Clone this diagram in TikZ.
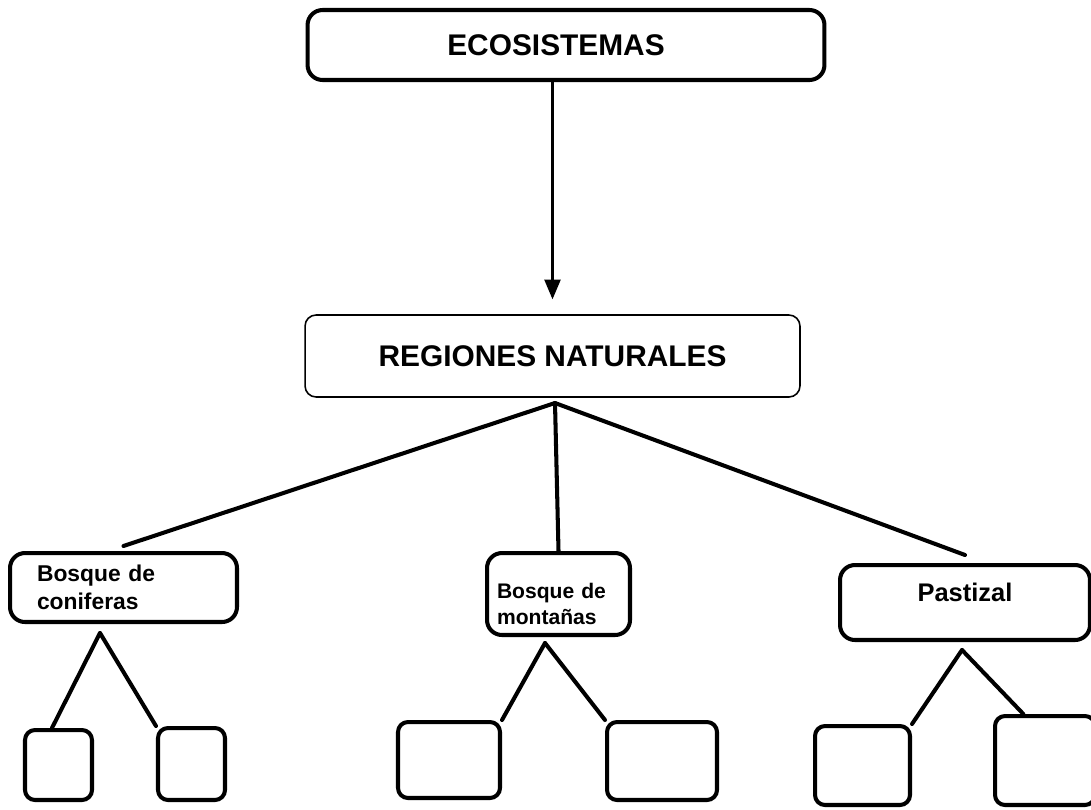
\documentclass[tikz,border=0pt]{standalone}
\usepackage{fontspec}
\setmainfont{Liberation Sans}
\usepackage{tikz}
\usetikzlibrary{arrows}

\begin{document}
\begin{tikzpicture}[line cap=round,line join=round,>=triangle 45,x=0.02cm,y=-0.02cm,
    box/.style={draw, line width=2.3pt, rounded corners=0.3cm, inner sep=0pt, font=\bfseries},
    leaf/.style={draw, line width=2.3pt, rounded corners=0.2cm, inner sep=0pt},
    con/.style={line width=2.3pt}]
                    \useasboundingbox (0,0) rectangle (1091,809);

                    \node[box, minimum width=10.34cm, minimum height=1.4cm, font=\bfseries\fontsize{17}{20}\selectfont] (eco) at (566,45) {ECOSISTEMAS\hspace*{0.4cm}};
                    \node[draw, line width=0.9pt, rounded corners=0.22cm, inner sep=0pt, minimum width=9.9cm, minimum height=1.64cm, font=\bfseries\fontsize{17}{20}\selectfont] (reg) at (552.5,356) {REGIONES NATURALES};

                    \node[box, minimum width=4.54cm, minimum height=1.38cm, inner xsep=0.54cm, text width=3.46cm, align=left, font=\bfseries\fontsize{13}{16}\selectfont] (coni) at (123.5,587.5) {Bosque de\\coniferas};
                    \node[box, minimum width=2.86cm, minimum height=1.64cm, inner xsep=0.2cm, text width=2.46cm, align=left, font=\bfseries\fontsize{12}{15}\selectfont] (mont) at (558.5,594) {\rule{0pt}{0.7cm}Bosque de\\montañas};
                    \node[box, minimum width=5cm, minimum height=1.5cm, text depth=0.4cm, font=\bfseries\fontsize{14.5}{17}\selectfont] (past) at (965,602.5) {Pastizal};

                    \node[leaf, minimum width=1.34cm, minimum height=1.4cm] (l1) at (58.5,765) {};
                    \node[leaf, minimum width=1.34cm, minimum height=1.44cm] (l2) at (191.5,764) {};
                    \node[leaf, minimum width=2.04cm, minimum height=1.52cm] (l3) at (449,760) {};
                    \node[leaf, minimum width=2.2cm, minimum height=1.56cm] (l4) at (662,761) {};
                    \node[leaf, minimum width=1.9cm, minimum height=1.58cm] (l5) at (862.5,765.5) {};
                    \node[leaf, minimum width=2cm, minimum height=1.78cm] (l6) at (1045,760.5) {};

                    \coordinate (top) at (555,403);
                    \coordinate (h1) at (100,633);
                    \coordinate (h2) at (545,643);
                    \coordinate (h3) at (962,650);

                    \draw [line width=1.6pt, ->] (eco.south -| reg.north) -- ([yshift=0.3cm]reg.north);

                    \draw [con] (top) -- ([yshift=0.1cm]coni.north);
                    \draw [con] (top) -- (mont.north);
                    \draw [con] (top) -- ([yshift=0.16cm]past.north);

                    \draw [con] (h1) -- (l1.100);
                    \draw [con] (h1) -- (l2.north west);
                    \draw [con] (h2) -- (l3.north east);
                    \draw [con] (h2) -- (l4.north west);
                    \draw [con] (h3) -- (l5.north east);
                    \draw [con] (h3) -- (l6.115);
                \end{tikzpicture}
\end{document}
